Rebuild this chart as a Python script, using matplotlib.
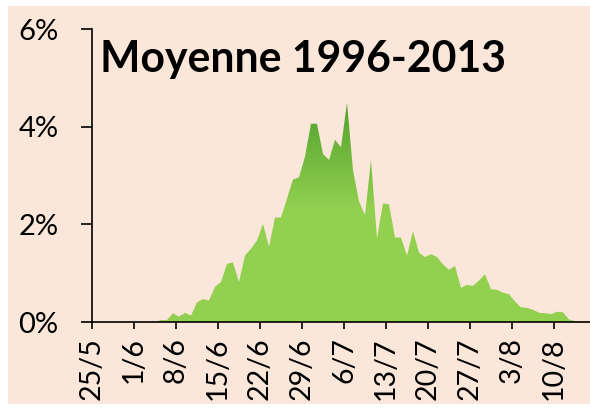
import matplotlib
matplotlib.use("Agg")
import matplotlib.pyplot as plt
import numpy as np
from matplotlib.colors import LinearSegmentedColormap
from matplotlib.patches import Rectangle

plt.rcParams["font.family"] = ["Lato", "DejaVu Sans"]

# daily share (%) of the season, first value is 10 days after 25/5
first_day = 10
share = [0.0, 0.04, 0.04, 0.18, 0.11, 0.19, 0.13, 0.40, 0.47, 0.44,
         0.72, 0.82, 1.19, 1.22, 0.82, 1.36, 1.50, 1.67, 2.01, 1.54,
         2.14, 2.14, 2.53, 2.92, 2.96, 3.39, 4.06, 4.06, 3.44, 3.32,
         3.73, 3.58, 4.49, 3.11, 2.47, 2.19, 3.31, 1.71, 2.43, 2.41,
         1.73, 1.73, 1.36, 1.86, 1.42, 1.33, 1.39, 1.33, 1.18, 1.07,
         1.15, 0.70, 0.76, 0.74, 0.85, 0.98, 0.67, 0.66, 0.60, 0.57,
         0.42, 0.30, 0.29, 0.25, 0.19, 0.18, 0.16, 0.21, 0.20, 0.05,
         0.02, 0.01, 0.02]
tick_labels = ["25/5", "1/6", "8/6", "15/6", "22/6", "29/6", "6/7",
               "13/7", "20/7", "27/7", "3/8", "10/8"]
y_ticks = [0, 2, 4, 6]
title = "Moyenne 1996-2013"

bg = "#FBE7DA"
W, H = 590, 411
fig = plt.figure(figsize=(W / 100, H / 100), dpi=100, facecolor="white")
fig.patches.append(Rectangle((8 / W, 7 / H), (W - 8) / W, (H - 13) / H,
                             transform=fig.transFigure, facecolor=bg,
                             edgecolor="none", zorder=-10))

ax = fig.add_axes([92 / W, 1 - 322 / H, (W - 92) / W, (322 - 29) / H])
ax.set_facecolor("none")

x = np.arange(len(share)) + first_day + 0.5
y = np.array(share)
poly = ax.fill_between(x, 0, y, color="none", lw=0)

# vertical green gradient, clipped to the area
cmap = LinearSegmentedColormap.from_list("g", ["#92D050", "#92D050", "#4F9F2C"])
grad = np.linspace(0, 1, 256).reshape(-1, 1)
img = ax.imshow(grad, extent=[0, 84, 0, 4.6], origin="lower", aspect="auto",
                cmap=cmap, vmin=0, vmax=1, zorder=1)
img.set_clip_path(poly.get_paths()[0], transform=ax.transData)

ax.set_xlim(0, 83)
ax.set_ylim(0, 6)
ax.set_xticks(np.arange(len(tick_labels)) * 7)
ax.set_xticklabels(tick_labels, rotation=90, fontsize=20.5)
ax.set_yticks(y_ticks)
ax.set_yticklabels([f"{v}%" for v in y_ticks], fontsize=21)

for s in ["top", "right"]:
    ax.spines[s].set_visible(False)
for s in ["left", "bottom"]:
    ax.spines[s].set_linewidth(1.2)
ax.tick_params(axis="y", length=8, width=1.2, pad=16)
ax.tick_params(axis="x", length=5, width=1.2, pad=6)

fig.text(100 / W, 1 - 72 / H, title, fontsize=30.8, fontweight="bold",
         va="baseline", ha="left")

fig.savefig("out.png", dpi=100, facecolor=fig.get_facecolor())
